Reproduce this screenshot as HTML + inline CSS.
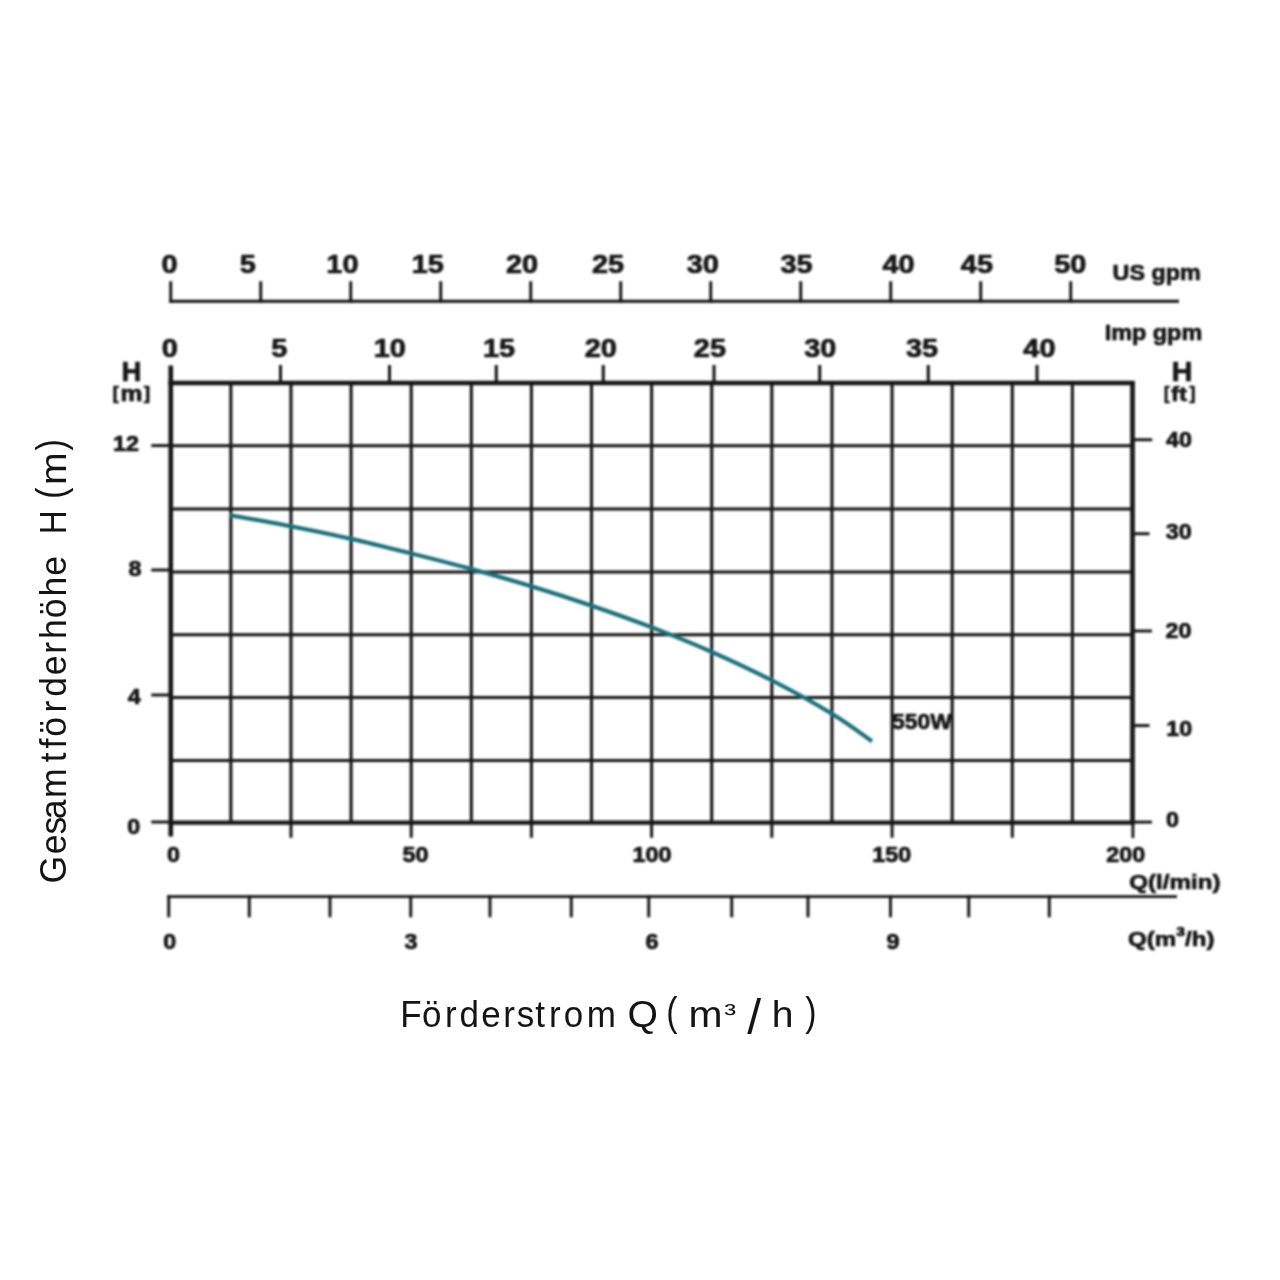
<!DOCTYPE html>
<html lang="de"><head><meta charset="utf-8"><title>Pumpenkennlinie 550W</title>
<style>
html,body{margin:0;padding:0;background:#fff;}
body{width:1280px;height:1280px;overflow:hidden;}
svg{display:block;font-family:"Liberation Sans",sans-serif;}
text{white-space:pre;}
</style></head><body>
<svg width="1280" height="1280" viewBox="0 0 1280 1280">
<rect width="1280" height="1280" fill="#fff"/>
<defs><filter id="soft" x="0" y="0" width="1280" height="1280" filterUnits="userSpaceOnUse"><feGaussianBlur stdDeviation="0.8"/></filter></defs><g filter="url(#soft)">
<line x1="230.86" y1="383.00" x2="230.86" y2="822.60" stroke="#141414" stroke-width="3.05" stroke-linecap="butt"/>
<line x1="290.97" y1="383.00" x2="290.97" y2="822.60" stroke="#141414" stroke-width="3.05" stroke-linecap="butt"/>
<line x1="351.08" y1="383.00" x2="351.08" y2="822.60" stroke="#141414" stroke-width="3.05" stroke-linecap="butt"/>
<line x1="411.19" y1="383.00" x2="411.19" y2="822.60" stroke="#141414" stroke-width="3.05" stroke-linecap="butt"/>
<line x1="471.30" y1="383.00" x2="471.30" y2="822.60" stroke="#141414" stroke-width="3.05" stroke-linecap="butt"/>
<line x1="531.41" y1="383.00" x2="531.41" y2="822.60" stroke="#141414" stroke-width="3.05" stroke-linecap="butt"/>
<line x1="591.52" y1="383.00" x2="591.52" y2="822.60" stroke="#141414" stroke-width="3.05" stroke-linecap="butt"/>
<line x1="651.62" y1="383.00" x2="651.62" y2="822.60" stroke="#141414" stroke-width="3.05" stroke-linecap="butt"/>
<line x1="711.73" y1="383.00" x2="711.73" y2="822.60" stroke="#141414" stroke-width="3.05" stroke-linecap="butt"/>
<line x1="771.84" y1="383.00" x2="771.84" y2="822.60" stroke="#141414" stroke-width="3.05" stroke-linecap="butt"/>
<line x1="831.95" y1="383.00" x2="831.95" y2="822.60" stroke="#141414" stroke-width="3.05" stroke-linecap="butt"/>
<line x1="892.06" y1="383.00" x2="892.06" y2="822.60" stroke="#141414" stroke-width="3.05" stroke-linecap="butt"/>
<line x1="952.17" y1="383.00" x2="952.17" y2="822.60" stroke="#141414" stroke-width="3.05" stroke-linecap="butt"/>
<line x1="1012.28" y1="383.00" x2="1012.28" y2="822.60" stroke="#141414" stroke-width="3.05" stroke-linecap="butt"/>
<line x1="1072.39" y1="383.00" x2="1072.39" y2="822.60" stroke="#141414" stroke-width="3.05" stroke-linecap="butt"/>
<line x1="170.75" y1="445.70" x2="1132.50" y2="445.70" stroke="#141414" stroke-width="3.05" stroke-linecap="butt"/>
<line x1="170.75" y1="509.00" x2="1132.50" y2="509.00" stroke="#141414" stroke-width="3.05" stroke-linecap="butt"/>
<line x1="170.75" y1="572.00" x2="1132.50" y2="572.00" stroke="#141414" stroke-width="3.05" stroke-linecap="butt"/>
<line x1="170.75" y1="634.70" x2="1132.50" y2="634.70" stroke="#141414" stroke-width="3.05" stroke-linecap="butt"/>
<line x1="170.75" y1="697.50" x2="1132.50" y2="697.50" stroke="#141414" stroke-width="3.05" stroke-linecap="butt"/>
<line x1="170.75" y1="760.50" x2="1132.50" y2="760.50" stroke="#141414" stroke-width="3.05" stroke-linecap="butt"/>
<line x1="168.45" y1="383.00" x2="1134.80" y2="383.00" stroke="#141414" stroke-width="4.5" stroke-linecap="butt"/>
<line x1="168.45" y1="822.60" x2="1134.80" y2="822.60" stroke="#141414" stroke-width="4.2" stroke-linecap="butt"/>
<line x1="170.75" y1="365.50" x2="170.75" y2="836.50" stroke="#141414" stroke-width="4.6" stroke-linecap="butt"/>
<line x1="1132.50" y1="383.00" x2="1132.50" y2="822.60" stroke="#141414" stroke-width="4.6" stroke-linecap="butt"/>
<line x1="1132.90" y1="822.60" x2="1132.90" y2="838.00" stroke="#141414" stroke-width="2.8" stroke-linecap="butt"/>
<path d="M229.80 515.20 C239.93 517.04 270.47 522.33 290.60 526.25 C310.73 530.17 330.55 534.23 350.60 538.75 C370.65 543.27 390.79 548.36 410.90 553.40 C431.01 558.44 451.19 563.52 471.25 569.00 C491.31 574.48 511.29 580.17 531.25 586.25 C551.21 592.33 571.00 598.67 591.00 605.50 C611.00 612.33 631.25 619.52 651.25 627.20 C671.25 634.88 690.94 642.75 711.00 651.60 C731.06 660.45 751.45 669.94 771.60 680.30 C791.75 690.66 815.17 703.59 831.90 713.75 C848.63 723.91 865.32 736.67 872.00 741.25" fill="none" stroke="#1a6d77" stroke-width="4.0"/>
<line x1="151.25" y1="445.60" x2="170.75" y2="445.60" stroke="#141414" stroke-width="2.9" stroke-linecap="butt"/>
<line x1="151.25" y1="570.00" x2="170.75" y2="570.00" stroke="#141414" stroke-width="2.9" stroke-linecap="butt"/>
<line x1="151.25" y1="695.00" x2="170.75" y2="695.00" stroke="#141414" stroke-width="2.9" stroke-linecap="butt"/>
<line x1="151.25" y1="822.00" x2="170.75" y2="822.00" stroke="#141414" stroke-width="2.9" stroke-linecap="butt"/>
<line x1="1132.50" y1="439.75" x2="1152.25" y2="439.75" stroke="#141414" stroke-width="2.9" stroke-linecap="butt"/>
<line x1="1132.50" y1="533.75" x2="1149.50" y2="533.75" stroke="#141414" stroke-width="2.9" stroke-linecap="butt"/>
<line x1="1132.50" y1="631.00" x2="1152.00" y2="631.00" stroke="#141414" stroke-width="2.9" stroke-linecap="butt"/>
<line x1="1132.50" y1="725.60" x2="1149.50" y2="725.60" stroke="#141414" stroke-width="2.9" stroke-linecap="butt"/>
<line x1="1132.50" y1="822.10" x2="1152.00" y2="822.10" stroke="#141414" stroke-width="2.9" stroke-linecap="butt"/>
<line x1="290.97" y1="822.60" x2="290.97" y2="837.80" stroke="#141414" stroke-width="2.9" stroke-linecap="butt"/>
<line x1="411.19" y1="822.60" x2="411.19" y2="837.80" stroke="#141414" stroke-width="2.9" stroke-linecap="butt"/>
<line x1="531.41" y1="822.60" x2="531.41" y2="837.80" stroke="#141414" stroke-width="2.9" stroke-linecap="butt"/>
<line x1="651.62" y1="822.60" x2="651.62" y2="837.80" stroke="#141414" stroke-width="2.9" stroke-linecap="butt"/>
<line x1="771.84" y1="822.60" x2="771.84" y2="837.80" stroke="#141414" stroke-width="2.9" stroke-linecap="butt"/>
<line x1="892.06" y1="822.60" x2="892.06" y2="837.80" stroke="#141414" stroke-width="2.9" stroke-linecap="butt"/>
<line x1="1012.28" y1="822.60" x2="1012.28" y2="837.80" stroke="#141414" stroke-width="2.9" stroke-linecap="butt"/>
<line x1="169.30" y1="301.25" x2="1179.00" y2="301.25" stroke="#141414" stroke-width="2.9" stroke-linecap="butt"/>
<line x1="170.75" y1="281.25" x2="170.75" y2="302.70" stroke="#141414" stroke-width="2.9" stroke-linecap="butt"/>
<line x1="260.75" y1="281.25" x2="260.75" y2="302.70" stroke="#141414" stroke-width="2.9" stroke-linecap="butt"/>
<line x1="350.75" y1="281.25" x2="350.75" y2="302.70" stroke="#141414" stroke-width="2.9" stroke-linecap="butt"/>
<line x1="440.75" y1="281.25" x2="440.75" y2="302.70" stroke="#141414" stroke-width="2.9" stroke-linecap="butt"/>
<line x1="530.75" y1="281.25" x2="530.75" y2="302.70" stroke="#141414" stroke-width="2.9" stroke-linecap="butt"/>
<line x1="620.75" y1="281.25" x2="620.75" y2="302.70" stroke="#141414" stroke-width="2.9" stroke-linecap="butt"/>
<line x1="710.75" y1="281.25" x2="710.75" y2="302.70" stroke="#141414" stroke-width="2.9" stroke-linecap="butt"/>
<line x1="800.75" y1="281.25" x2="800.75" y2="302.70" stroke="#141414" stroke-width="2.9" stroke-linecap="butt"/>
<line x1="890.75" y1="281.25" x2="890.75" y2="302.70" stroke="#141414" stroke-width="2.9" stroke-linecap="butt"/>
<line x1="980.75" y1="281.25" x2="980.75" y2="302.70" stroke="#141414" stroke-width="2.9" stroke-linecap="butt"/>
<line x1="1070.75" y1="281.25" x2="1070.75" y2="302.70" stroke="#141414" stroke-width="2.9" stroke-linecap="butt"/>
<line x1="280.50" y1="365.00" x2="280.50" y2="383.00" stroke="#141414" stroke-width="3.0" stroke-linecap="butt"/>
<line x1="389.50" y1="365.00" x2="389.50" y2="383.00" stroke="#141414" stroke-width="3.0" stroke-linecap="butt"/>
<line x1="496.25" y1="365.00" x2="496.25" y2="383.00" stroke="#141414" stroke-width="3.0" stroke-linecap="butt"/>
<line x1="603.25" y1="365.00" x2="603.25" y2="383.00" stroke="#141414" stroke-width="3.0" stroke-linecap="butt"/>
<line x1="714.00" y1="365.00" x2="714.00" y2="383.00" stroke="#141414" stroke-width="3.0" stroke-linecap="butt"/>
<line x1="819.75" y1="365.00" x2="819.75" y2="383.00" stroke="#141414" stroke-width="3.0" stroke-linecap="butt"/>
<line x1="928.25" y1="365.00" x2="928.25" y2="383.00" stroke="#141414" stroke-width="3.0" stroke-linecap="butt"/>
<line x1="1037.00" y1="365.00" x2="1037.00" y2="383.00" stroke="#141414" stroke-width="3.0" stroke-linecap="butt"/>
<line x1="167.30" y1="896.60" x2="1177.00" y2="896.60" stroke="#141414" stroke-width="2.9" stroke-linecap="butt"/>
<line x1="168.75" y1="895.15" x2="168.75" y2="917.25" stroke="#141414" stroke-width="2.9" stroke-linecap="butt"/>
<line x1="249.25" y1="895.15" x2="249.25" y2="917.25" stroke="#141414" stroke-width="2.9" stroke-linecap="butt"/>
<line x1="330.00" y1="895.15" x2="330.00" y2="917.25" stroke="#141414" stroke-width="2.9" stroke-linecap="butt"/>
<line x1="410.75" y1="895.15" x2="410.75" y2="917.25" stroke="#141414" stroke-width="2.9" stroke-linecap="butt"/>
<line x1="490.00" y1="895.15" x2="490.00" y2="917.25" stroke="#141414" stroke-width="2.9" stroke-linecap="butt"/>
<line x1="571.25" y1="895.15" x2="571.25" y2="917.25" stroke="#141414" stroke-width="2.9" stroke-linecap="butt"/>
<line x1="648.75" y1="895.15" x2="648.75" y2="917.25" stroke="#141414" stroke-width="2.9" stroke-linecap="butt"/>
<line x1="731.75" y1="895.15" x2="731.75" y2="917.25" stroke="#141414" stroke-width="2.9" stroke-linecap="butt"/>
<line x1="808.00" y1="895.15" x2="808.00" y2="917.25" stroke="#141414" stroke-width="2.9" stroke-linecap="butt"/>
<line x1="890.50" y1="895.15" x2="890.50" y2="917.25" stroke="#141414" stroke-width="2.9" stroke-linecap="butt"/>
<line x1="968.75" y1="895.15" x2="968.75" y2="917.25" stroke="#141414" stroke-width="2.9" stroke-linecap="butt"/>
<line x1="1049.25" y1="895.15" x2="1049.25" y2="917.25" stroke="#141414" stroke-width="2.9" stroke-linecap="butt"/>
<text transform="translate(161.58 272.77) scale(1.1200 1)" font-size="25.80" font-weight="bold" fill="#141414" stroke="#141414" stroke-width="0.7" stroke-linejoin="round">0</text>
<text transform="translate(239.75 272.64) scale(1.1200 1)" font-size="25.80" font-weight="bold" fill="#141414" stroke="#141414" stroke-width="0.7" stroke-linejoin="round">5</text>
<text transform="translate(326.34 272.77) scale(1.1200 1)" font-size="25.80" font-weight="bold" fill="#141414" stroke="#141414" stroke-width="0.7" stroke-linejoin="round">10</text>
<text transform="translate(411.66 272.64) scale(1.1200 1)" font-size="25.80" font-weight="bold" fill="#141414" stroke="#141414" stroke-width="0.7" stroke-linejoin="round">15</text>
<text transform="translate(505.93 272.77) scale(1.1200 1)" font-size="25.80" font-weight="bold" fill="#141414" stroke="#141414" stroke-width="0.7" stroke-linejoin="round">20</text>
<text transform="translate(591.95 272.77) scale(1.1200 1)" font-size="25.80" font-weight="bold" fill="#141414" stroke="#141414" stroke-width="0.7" stroke-linejoin="round">25</text>
<text transform="translate(686.72 272.74) scale(1.1200 1)" font-size="25.80" font-weight="bold" fill="#141414" stroke="#141414" stroke-width="0.7" stroke-linejoin="round">30</text>
<text transform="translate(780.53 272.74) scale(1.1200 1)" font-size="25.80" font-weight="bold" fill="#141414" stroke="#141414" stroke-width="0.7" stroke-linejoin="round">35</text>
<text transform="translate(882.42 272.77) scale(1.1200 1)" font-size="25.80" font-weight="bold" fill="#141414" stroke="#141414" stroke-width="0.7" stroke-linejoin="round">40</text>
<text transform="translate(960.84 272.64) scale(1.1200 1)" font-size="25.80" font-weight="bold" fill="#141414" stroke="#141414" stroke-width="0.7" stroke-linejoin="round">45</text>
<text transform="translate(1054.31 272.77) scale(1.1200 1)" font-size="25.80" font-weight="bold" fill="#141414" stroke="#141414" stroke-width="0.7" stroke-linejoin="round">50</text>
<text transform="translate(161.73 356.87) scale(1.1200 1)" font-size="25.80" font-weight="bold" fill="#141414" stroke="#141414" stroke-width="0.7" stroke-linejoin="round">0</text>
<text transform="translate(271.35 356.74) scale(1.1200 1)" font-size="25.80" font-weight="bold" fill="#141414" stroke="#141414" stroke-width="0.7" stroke-linejoin="round">5</text>
<text transform="translate(373.64 356.87) scale(1.1200 1)" font-size="25.80" font-weight="bold" fill="#141414" stroke="#141414" stroke-width="0.7" stroke-linejoin="round">10</text>
<text transform="translate(483.06 356.74) scale(1.1200 1)" font-size="25.80" font-weight="bold" fill="#141414" stroke="#141414" stroke-width="0.7" stroke-linejoin="round">15</text>
<text transform="translate(584.63 356.87) scale(1.1200 1)" font-size="25.80" font-weight="bold" fill="#141414" stroke="#141414" stroke-width="0.7" stroke-linejoin="round">20</text>
<text transform="translate(693.85 356.87) scale(1.1200 1)" font-size="25.80" font-weight="bold" fill="#141414" stroke="#141414" stroke-width="0.7" stroke-linejoin="round">25</text>
<text transform="translate(804.22 356.84) scale(1.1200 1)" font-size="25.80" font-weight="bold" fill="#141414" stroke="#141414" stroke-width="0.7" stroke-linejoin="round">30</text>
<text transform="translate(906.03 356.84) scale(1.1200 1)" font-size="25.80" font-weight="bold" fill="#141414" stroke="#141414" stroke-width="0.7" stroke-linejoin="round">35</text>
<text transform="translate(1023.32 356.87) scale(1.1200 1)" font-size="25.80" font-weight="bold" fill="#141414" stroke="#141414" stroke-width="0.7" stroke-linejoin="round">40</text>
<text transform="translate(1112.60 280.00) scale(1.0274 1)" font-size="22.70" font-weight="bold" fill="#141414" stroke="#141414" stroke-width="0.7" stroke-linejoin="round">US gpm</text>
<text transform="translate(1104.72 340.20) scale(1.0311 1)" font-size="22.70" font-weight="bold" fill="#141414" stroke="#141414" stroke-width="0.7" stroke-linejoin="round">Imp gpm</text>
<text transform="translate(121.54 380.60) scale(1.0192 1)" font-size="27.05" font-weight="bold" fill="#141414" stroke="#141414" stroke-width="0.7" stroke-linejoin="round">H</text>
<text transform="translate(1171.77 380.60) scale(1.0570 1)" font-size="27.05" font-weight="bold" fill="#141414" stroke="#141414" stroke-width="0.7" stroke-linejoin="round">H</text>
<text transform="translate(112.70 398.84) scale(0.9489 1)" font-size="19.09" font-weight="bold" fill="#141414" stroke="#141414" stroke-width="0.7" stroke-linejoin="round">[</text>
<text transform="translate(120.60 401.30) scale(1.1425 1)" font-size="21.58" font-weight="bold" fill="#141414" stroke="#141414" stroke-width="0.7" stroke-linejoin="round">m</text>
<text transform="translate(143.76 398.84) scale(1.0082 1)" font-size="19.09" font-weight="bold" fill="#141414" stroke="#141414" stroke-width="0.7" stroke-linejoin="round">]</text>
<text transform="translate(1163.99 398.84) scale(0.8698 1)" font-size="19.09" font-weight="bold" fill="#141414" stroke="#141414" stroke-width="0.7" stroke-linejoin="round">[</text>
<text transform="translate(1171.08 400.89) scale(1.1351 1)" font-size="21.09" font-weight="bold" fill="#141414" stroke="#141414" stroke-width="0.7" stroke-linejoin="round">ft</text>
<text transform="translate(1189.38 398.84) scale(0.9094 1)" font-size="19.09" font-weight="bold" fill="#141414" stroke="#141414" stroke-width="0.7" stroke-linejoin="round">]</text>
<text transform="translate(113.01 450.73) scale(1.0800 1)" font-size="21.60" font-weight="bold" fill="#141414" stroke="#141414" stroke-width="0.7" stroke-linejoin="round">12</text>
<text transform="translate(128.40 576.17) scale(1.0800 1)" font-size="21.60" font-weight="bold" fill="#141414" stroke="#141414" stroke-width="0.7" stroke-linejoin="round">8</text>
<text transform="translate(127.71 704.02) scale(1.0800 1)" font-size="21.60" font-weight="bold" fill="#141414" stroke="#141414" stroke-width="0.7" stroke-linejoin="round">4</text>
<text transform="translate(127.28 834.02) scale(1.0800 1)" font-size="21.60" font-weight="bold" fill="#141414" stroke="#141414" stroke-width="0.7" stroke-linejoin="round">0</text>
<text transform="translate(1166.09 447.43) scale(1.0800 1)" font-size="21.60" font-weight="bold" fill="#141414" stroke="#141414" stroke-width="0.7" stroke-linejoin="round">40</text>
<text transform="translate(1165.76 538.65) scale(1.0800 1)" font-size="21.60" font-weight="bold" fill="#141414" stroke="#141414" stroke-width="0.7" stroke-linejoin="round">30</text>
<text transform="translate(1165.61 638.42) scale(1.0800 1)" font-size="21.60" font-weight="bold" fill="#141414" stroke="#141414" stroke-width="0.7" stroke-linejoin="round">20</text>
<text transform="translate(1166.29 735.67) scale(1.0800 1)" font-size="21.60" font-weight="bold" fill="#141414" stroke="#141414" stroke-width="0.7" stroke-linejoin="round">10</text>
<text transform="translate(1165.93 827.22) scale(1.0800 1)" font-size="21.60" font-weight="bold" fill="#141414" stroke="#141414" stroke-width="0.7" stroke-linejoin="round">0</text>
<text transform="translate(167.03 862.32) scale(1.0800 1)" font-size="21.60" font-weight="bold" fill="#141414" stroke="#141414" stroke-width="0.7" stroke-linejoin="round">0</text>
<text transform="translate(402.42 862.32) scale(1.0800 1)" font-size="21.60" font-weight="bold" fill="#141414" stroke="#141414" stroke-width="0.7" stroke-linejoin="round">50</text>
<text transform="translate(632.54 862.32) scale(1.0800 1)" font-size="21.60" font-weight="bold" fill="#141414" stroke="#141414" stroke-width="0.7" stroke-linejoin="round">100</text>
<text transform="translate(872.29 862.32) scale(1.0800 1)" font-size="21.60" font-weight="bold" fill="#141414" stroke="#141414" stroke-width="0.7" stroke-linejoin="round">150</text>
<text transform="translate(1106.36 862.32) scale(1.0800 1)" font-size="21.60" font-weight="bold" fill="#141414" stroke="#141414" stroke-width="0.7" stroke-linejoin="round">200</text>
<text transform="translate(163.13 948.67) scale(1.0800 1)" font-size="21.60" font-weight="bold" fill="#141414" stroke="#141414" stroke-width="0.7" stroke-linejoin="round">0</text>
<text transform="translate(404.42 948.65) scale(1.0800 1)" font-size="21.60" font-weight="bold" fill="#141414" stroke="#141414" stroke-width="0.7" stroke-linejoin="round">3</text>
<text transform="translate(645.40 948.67) scale(1.0800 1)" font-size="21.60" font-weight="bold" fill="#141414" stroke="#141414" stroke-width="0.7" stroke-linejoin="round">6</text>
<text transform="translate(886.43 948.67) scale(1.0800 1)" font-size="21.60" font-weight="bold" fill="#141414" stroke="#141414" stroke-width="0.7" stroke-linejoin="round">9</text>
<text transform="translate(1129.23 888.90) scale(1.1506 1)" font-size="21.00" font-weight="bold" fill="#141414" stroke="#141414" stroke-width="0.7" stroke-linejoin="round">Q(l/min)</text>
<text transform="translate(1128.04 946.40) scale(1.1448 1)" font-size="21.00" font-weight="bold" fill="#141414" stroke="#141414" stroke-width="0.7" stroke-linejoin="round">Q(m<tspan dy="-2.6" font-size="1.12em">³</tspan><tspan dy="2.6">/h)</tspan></text>
<text transform="translate(892.11 729.08) scale(1.0438 1)" font-size="21.91" font-weight="bold" fill="#141414" stroke="#141414" stroke-width="0.7" stroke-linejoin="round">550W</text>
</g>
<g>
<text transform="translate(0 1027.00) scale(0.9557 1)" x="418.72 441.70 465.52 480.70 503.56 526.65 540.65 560.09 574.47 589.84 613.96" y="0" font-size="36.60" font-weight="normal" fill="#141414">Förderstrom</text>
<text transform="translate(627.44 1027.00) scale(1.0689 1)" font-size="36.60" font-weight="normal" fill="#141414">Q</text>
<text transform="translate(666.16 1026.24) scale(0.8500 1)" font-size="39.79" font-weight="normal" fill="#141414">(</text>
<text transform="translate(688.44 1027.00) scale(1.1163 1)" font-size="36.60" font-weight="normal" fill="#141414">m</text>
<text transform="translate(724.16 1022.80) scale(1.2726 1)" font-size="27.76" font-weight="normal" fill="#141414">³</text>
<text transform="translate(747.29 1033.70) scale(1.0000 1)" font-size="49.80" font-weight="normal" fill="#141414">/</text>
<text transform="translate(771.87 1027.00) scale(1.0670 1)" font-size="36.60" font-weight="normal" fill="#141414">h</text>
<text transform="translate(805.27 1026.24) scale(0.8500 1)" font-size="39.79" font-weight="normal" fill="#141414">)</text>
<text transform="translate(65.50 0) rotate(-90) scale(0.9594 1)" x="-920.84 -890.45 -869.90 -853.91 -831.84 -794.56 -780.05 -767.97 -742.69 -726.12 -703.77 -681.50 -666.12 -644.40 -621.77 -600.01" y="0" font-size="37.00" font-weight="normal" fill="#141414">Gesamtförderhöhe</text>
<text transform="translate(65.50 534.25) rotate(-90) scale(0.9017 1)" font-size="37.00" font-weight="normal" fill="#141414">H</text>
<text transform="translate(64.91 499.05) rotate(-90) scale(0.8500 1)" font-size="40.43" font-weight="normal" fill="#141414">(</text>
<text transform="translate(65.50 484.95) rotate(-90) scale(1.0618 1)" font-size="37.00" font-weight="normal" fill="#141414">m</text>
<text transform="translate(64.91 450.41) rotate(-90) scale(0.8500 1)" font-size="40.43" font-weight="normal" fill="#141414">)</text>
</g>
</svg>
</body></html>
